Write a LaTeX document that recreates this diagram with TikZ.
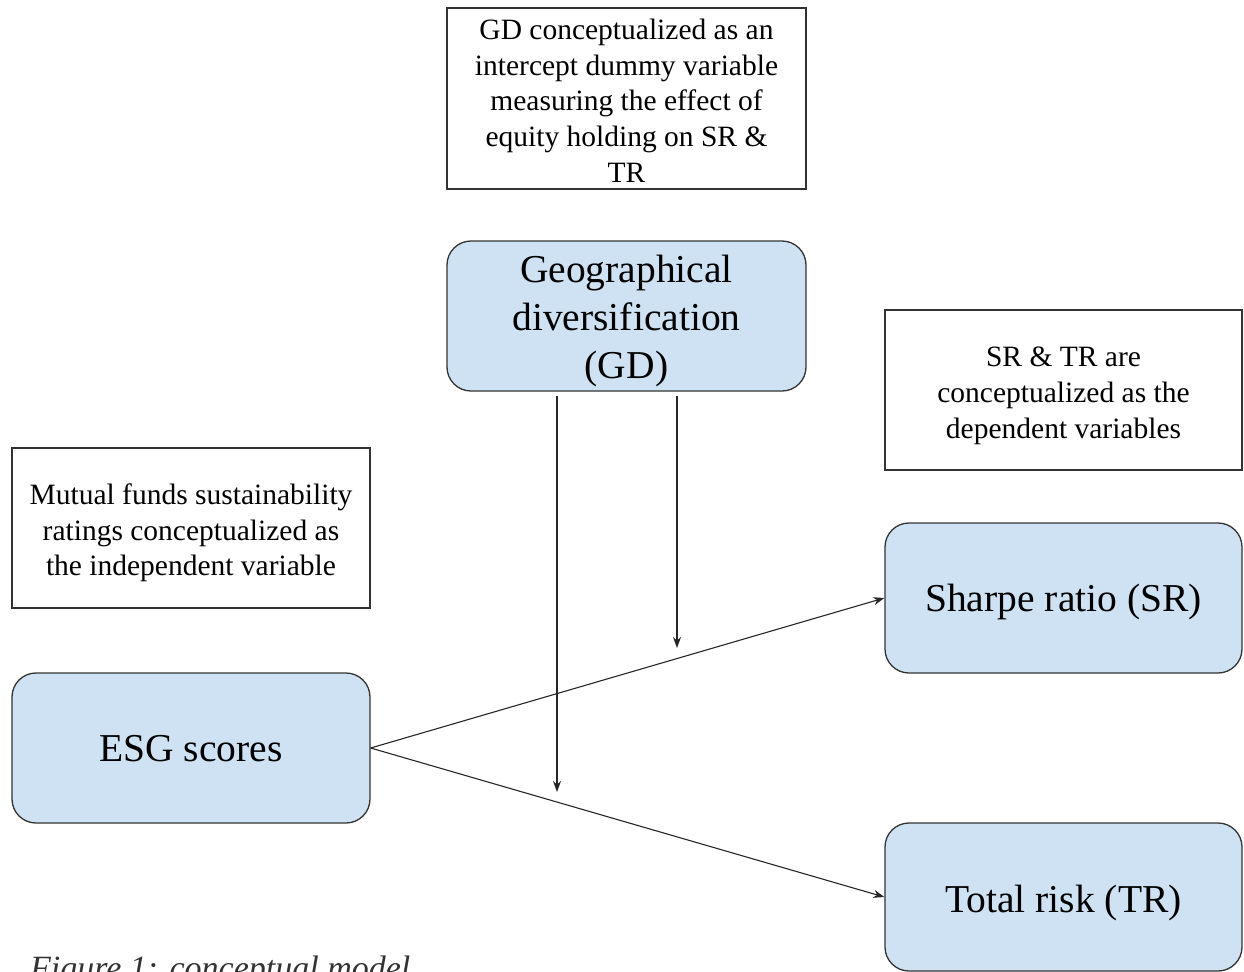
\documentclass[tikz,border=0pt]{standalone}
\usepackage{fontspec}
\setmainfont{Liberation Serif}
\usetikzlibrary{arrows.meta}
\definecolor{boxfill}{HTML}{CFE2F3}
\definecolor{edge}{HTML}{333333}
\tikzset{
  note/.style={draw=edge, line width=1.3bp, fill=white, inner sep=0pt},
  notetext/.style={align=center, inner sep=0pt, font=\fontsize{29.5bp}{35.7bp}\selectfont},
  var/.style={draw=edge, line width=1.3bp, fill=boxfill, rounded corners=24bp, inner sep=0pt},
  vartext/.style={align=center, inner sep=0pt, font=\fontsize{39.5bp}{48bp}\selectfont},
  link/.style={draw=black!85, line width=1.1bp, -{Stealth[length=11bp,width=8bp]}},
}
\begin{document}
\begin{tikzpicture}[x=1bp,y=-1bp]
\useasboundingbox (0,0) rectangle (1244,972);
\clip (0,0) rectangle (1244,972);
% notes
\node[note, minimum width=359bp, minimum height=181bp] (top) at (626.5,98.5) {};
\node[notetext] (toptext) at ([yshift=-2bp]top.center)
  {GD conceptualized as an\\intercept dummy variable\\measuring the effect of\\equity holding on SR \&\\TR};
\node[note, minimum width=357bp, minimum height=160bp] (right) at (1063.5,390) {};
\node[notetext] (righttext) at ([yshift=-6bp]right.center)
  {SR \& TR are\\conceptualized as the\\dependent variables};
\node[note, minimum width=358bp, minimum height=160bp] (left) at (191,528) {};
\node[notetext] (lefttext) at ([yshift=-5bp]left.center)
  {Mutual funds sustainability\\ratings conceptualized as\\the independent variable};
% variables
\node[var, minimum width=359bp, minimum height=150bp] (gd) at (626.5,316) {};
\node[vartext] (gdtext) at ([yshift=-5bp]gd.center) {Geographical\\diversification\\(GD)};
\node[var, minimum width=358bp, minimum height=150bp] (esg) at (191,748) {};
\node[vartext] (esgtext) at ([yshift=-1bp]esg.center) {ESG scores};
\node[var, minimum width=357bp, minimum height=150bp] (sr) at (1063.5,598) {};
\node[vartext] (srtext) at ([yshift=-4bp]sr.center) {Sharpe ratio (SR)};
\node[var, minimum width=357bp, minimum height=148bp] (tr) at (1063.5,897) {};
\node[vartext] (trtext) at ([yshift=-6bp]tr.center) {Total risk (TR)};
% caption
\node[anchor=north west, inner sep=0pt, text=black!80, font=\fontsize{34bp}{40bp}\selectfont\itshape] (cap) at (30,956)
  {Figure 1: conceptual model};
% connectors
\draw[link] (esg.east) -- (sr.west);
\draw[link] (esg.east) -- (tr.west);
\coordinate (e1) at (557,792);
\coordinate (e2) at (677,648);
\draw[link] ([yshift=-4bp]gd.south -| e1) -- (e1);
\draw[link] ([yshift=-4bp]gd.south -| e2) -- (e2);
\end{tikzpicture}
\end{document}
